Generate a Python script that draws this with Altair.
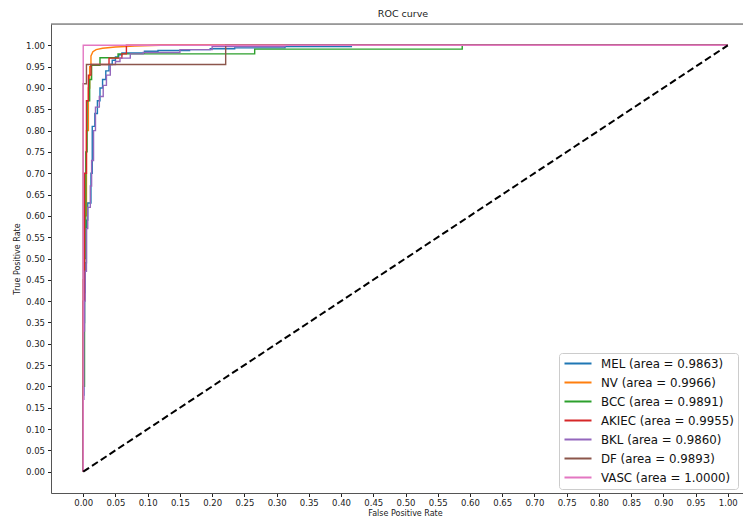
import altair as alt
import pandas as pd

labels = [
    "MEL (area = 0.9863)",
    "NV (area = 0.9966)",
    "BCC (area = 0.9891)",
    "AKIEC (area = 0.9955)",
    "BKL (area = 0.9860)",
    "DF (area = 0.9893)",
    "VASC (area = 1.0000)",
]
colors = ["#1f77b4", "#ff7f0e", "#2ca02c", "#d62728", "#9467bd", "#8c564b", "#e377c2"]

mel_fpr = [0, 0, 0.001, 0.001, 0.002, 0.002, 0.003, 0.003, 0.005, 0.005, 0.007, 0.007, 0.012, 0.012,
           0.014, 0.014, 0.018, 0.018, 0.022, 0.022, 0.026, 0.026, 0.030, 0.030, 0.035, 0.035, 0.040,
           0.040, 0.045, 0.045, 0.050, 0.050, 0.055, 0.055, 0.060, 0.060, 0.095, 0.095, 0.116, 0.116,
           0.165, 0.165, 0.197, 0.197, 0.235, 0.235, 0.313, 0.313, 0.416, 0.416, 1.0]
mel_tpr = [0, 0.18, 0.18, 0.35, 0.35, 0.42, 0.42, 0.49, 0.49, 0.59, 0.59, 0.63, 0.63, 0.70,
           0.70, 0.81, 0.81, 0.84, 0.84, 0.87, 0.87, 0.90, 0.90, 0.92, 0.92, 0.94, 0.94,
           0.955, 0.955, 0.965, 0.965, 0.973, 0.973, 0.978, 0.978, 0.982, 0.982, 0.986, 0.986, 0.988,
           0.988, 0.990, 0.990, 0.992, 0.992, 0.994, 0.994, 0.997, 0.997, 1.0, 1.0]

nv_fpr = [0, 0, 0.002, 0.002, 0.005, 0.005, 0.008, 0.008, 0.010, 0.010, 0.012, 0.012, 0.015, 0.020,
          0.030, 0.050, 0.080, 0.120, 1.0]
nv_tpr = [0, 0.45, 0.45, 0.60, 0.60, 0.80, 0.80, 0.90, 0.90, 0.95, 0.95, 0.975, 0.985, 0.990,
          0.993, 0.996, 0.998, 1.0, 1.0]

bcc_fpr = [0, 0, 0.002, 0.002, 0.004, 0.004, 0.006, 0.006, 0.010, 0.010, 0.013, 0.013, 0.026, 0.026,
           0.054, 0.054, 0.266, 0.266, 0.588, 0.588, 1.0]
bcc_tpr = [0, 0.20, 0.20, 0.50, 0.50, 0.75, 0.75, 0.87, 0.87, 0.92, 0.92, 0.953, 0.953, 0.971,
           0.971, 0.980, 0.980, 0.991, 0.991, 1.0, 1.0]

akiec_fpr = [0, 0, 0.002, 0.002, 0.005, 0.005, 0.008, 0.008, 0.012, 0.012, 0.040, 0.040, 0.060, 0.060,
             0.067, 0.067, 1.0]
akiec_tpr = [0, 0.40, 0.40, 0.70, 0.70, 0.87, 0.87, 0.93, 0.93, 0.955, 0.955, 0.970, 0.970, 0.980,
             0.980, 1.0, 1.0]

bkl_fpr = [0, 0, 0.001, 0.001, 0.002, 0.002, 0.003, 0.003, 0.005, 0.005, 0.007, 0.007, 0.011, 0.011,
           0.013, 0.013, 0.016, 0.016, 0.019, 0.019, 0.025, 0.025, 0.031, 0.031, 0.036, 0.036, 0.042,
           0.042, 0.050, 0.050, 0.057, 0.057, 0.073, 0.073, 0.093, 0.093, 0.150, 0.150, 0.200, 0.200,
           0.313, 0.313, 1.0]
bkl_tpr = [0, 0.17, 0.17, 0.33, 0.33, 0.40, 0.40, 0.47, 0.47, 0.57, 0.57, 0.62, 0.62, 0.67,
           0.67, 0.73, 0.73, 0.80, 0.80, 0.855, 0.855, 0.88, 0.88, 0.906, 0.906, 0.93, 0.93,
           0.955, 0.955, 0.962, 0.962, 0.970, 0.970, 0.980, 0.980, 0.983, 0.983, 0.990, 0.990, 0.997,
           0.997, 1.0, 1.0]

df_fpr = [0, 0, 0.005, 0.005, 0.221, 0.221, 1.0]
df_tpr = [0, 0.91, 0.91, 0.955, 0.955, 1.0, 1.0]

vasc_fpr = [0, 0, 1.0]
vasc_tpr = [0, 1.0, 1.0]

diag_fpr = [0, 1]
diag_tpr = [0, 1]

ticks = [0.00, 0.05, 0.10, 0.15, 0.20, 0.25, 0.30, 0.35, 0.40, 0.45, 0.50,
         0.55, 0.60, 0.65, 0.70, 0.75, 0.80, 0.85, 0.90, 0.95, 1.00]

all_fpr = [mel_fpr, nv_fpr, bcc_fpr, akiec_fpr, bkl_fpr, df_fpr, vasc_fpr]
all_tpr = [mel_tpr, nv_tpr, bcc_tpr, akiec_tpr, bkl_tpr, df_tpr, vasc_tpr]

rows = []
for lab, fp, tp in zip(labels, all_fpr, all_tpr):
    for i, (a, b) in enumerate(zip(fp, tp)):
        rows.append({"series": lab, "fpr": a, "tpr": b, "i": i})
curves = pd.DataFrame(rows)
diag = pd.DataFrame({"fpr": diag_fpr, "tpr": diag_tpr, "i": [0, 1]})
top = pd.DataFrame({"tpr": [1.05]})

FONT = "DejaVu Sans"
xs = alt.Scale(domain=[-0.05, 1.0236], nice=False, zero=False)
ys = alt.Scale(domain=[-0.05, 1.05], nice=False, zero=False)

common_axis = dict(values=ticks, format=".2f", grid=False, labelFontSize=8.5, labelColor="#222",
                   tickColor="#222", tickSize=3.5, domainColor="#555", domainWidth=1,
                   titleFontSize=8, titleFontWeight="normal", titleColor="#222",
                   labelFont=FONT, titleFont=FONT, labelOverlap=False, labelFlush=False)
xaxis = alt.Axis(title="False Positive Rate", labelPadding=2, titlePadding=2, titleX=354, **common_axis)
yaxis = alt.Axis(title="True Positive Rate", labelPadding=3, titlePadding=4, **common_axis)

lines = alt.Chart(curves).mark_line(strokeWidth=1.4, clip=True).encode(
    x=alt.X("fpr:Q", scale=xs, axis=xaxis),
    y=alt.Y("tpr:Q", scale=ys, axis=yaxis),
    color=alt.Color("series:N", sort=labels,
                    scale=alt.Scale(domain=labels, range=colors),
                    legend=alt.Legend(title=None, orient="none", legendX=508, legendY=329,
                                      symbolType="stroke", symbolSize=730, symbolStrokeWidth=2,
                                      labelFontSize=11.8, labelColor="#111", labelFont=FONT,
                                      clipHeight=13, rowPadding=5.0, padding=4,
                                      strokeColor="#cccccc", fillColor="white", cornerRadius=3,
                                      labelOffset=8, labelLimit=300)),
    order=alt.Order("i:Q"),
)

diag_line = alt.Chart(diag).mark_line(color="black", strokeWidth=2, strokeDash=[7, 3.5]).encode(
    x=alt.X("fpr:Q", scale=xs, axis=xaxis),
    y=alt.Y("tpr:Q", scale=ys, axis=yaxis),
    order=alt.Order("i:Q"),
)

top_spine = alt.Chart(top).mark_rule(color="#555", strokeWidth=1).encode(
    y=alt.Y("tpr:Q", scale=ys, axis=yaxis),
)

chart = alt.layer(lines, diag_line, top_spine).properties(
    width=692, height=469,
    title=alt.TitleParams("ROC curve", fontSize=9.5, fontWeight="normal", color="#222",
                          font=FONT, offset=5, dx=6),
    autosize=alt.AutoSizeParams(type="none"),
    padding={"left": 43, "top": 16, "right": 0, "bottom": 24},
).configure_view(stroke=None).configure(font=FONT)

chart.save("out.html", embed_options={"renderer": "svg", "actions": False})
